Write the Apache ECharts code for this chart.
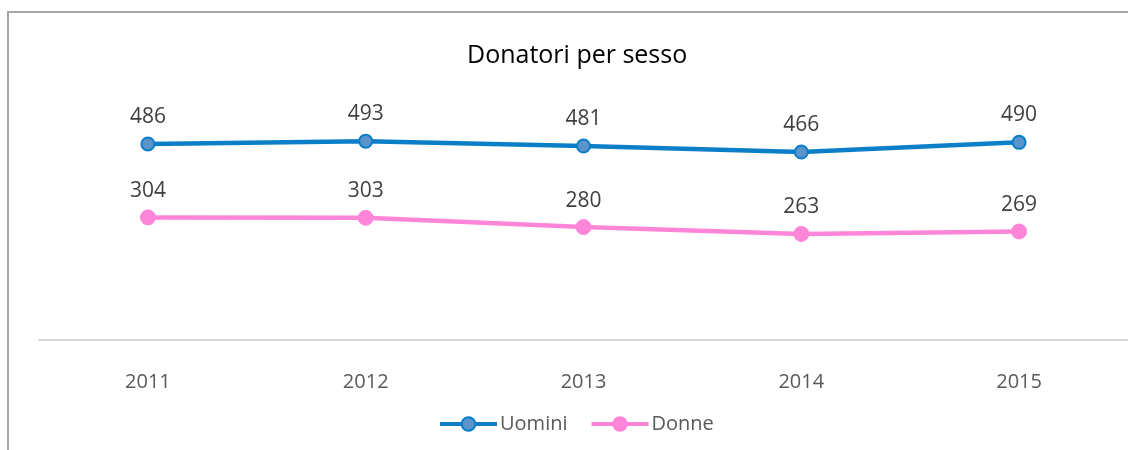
<!DOCTYPE html>
<html>
<head>
<meta charset="utf-8">
<script src="https://cdn.jsdelivr.net/npm/echarts@6/dist/echarts.min.js"></script>
<style>
  html, body { margin: 0; padding: 0; background: #fff; }
  #frame {
    position: absolute; left: 7px; top: 11px;
    width: 1140px; height: 460px;
    border: 2px solid #a6a6a6; box-sizing: border-box;
  }
  #chart { position: absolute; left: 0; top: 0; width: 1128px; height: 450px; }
</style>
</head>
<body>
<div id="frame"></div>
<div id="chart"></div>
<script>
const years = ["2011", "2012", "2013", "2014", "2015"];
const uomini = [486, 493, 481, 466, 490];
const donne = [304, 303, 280, 263, 269];

const font = "'Open Sans', 'Noto Sans', sans-serif";
const myChart = echarts.init(document.getElementById("chart"));
myChart.setOption({
  animation: false,
  title: {
    text: "Donatori per sesso",
    left: 462,
    top: 38,
    textStyle: { fontFamily: font, fontSize: 25, fontWeight: "normal", color: "#000" },
  },
  grid: { left: 39, right: -4, top: 98, bottom: 110 },
  legend: {
    bottom: 11,
    left: 433,
    itemWidth: 57,
    itemHeight: 17,
    itemGap: 22,
    lineStyle: { width: 4 },
    textStyle: { fontFamily: font, fontSize: 20, color: "#595959", padding: [0, 0, 0, -2] },
    data: ["Uomini", "Donne"],
  },
  xAxis: {
    type: "category",
    data: years,
    boundaryGap: true,
    axisLine: { lineStyle: { color: "#d9d9d9", width: 2 } },
    axisTick: { show: false },
    axisLabel: { fontFamily: font, fontSize: 20, color: "#595959", margin: 32 },
  },
  yAxis: {
    type: "value",
    min: 0,
    max: 600,
    show: false,
    splitLine: { show: false },
  },
  series: [
    {
      name: "Uomini",
      type: "line",
      data: uomini,
      symbol: "circle",
      symbolSize: 13,
      lineStyle: { color: "#0a7fc8", width: 4.5 },
      itemStyle: { color: "#5b93cb", borderColor: "#0a7fc8", borderWidth: 2 },
      label: { show: true, position: "top", distance: 9, fontFamily: font, fontSize: 21, color: "#404040" },
    },
    {
      name: "Donne",
      type: "line",
      data: donne,
      symbol: "circle",
      symbolSize: 15,
      lineStyle: { color: "#ff85d8", width: 4.5 },
      itemStyle: { color: "#ff85d8", borderColor: "#ff85d8", borderWidth: 1 },
      label: { show: true, position: "top", distance: 8, fontFamily: font, fontSize: 21, color: "#404040" },
    },
  ],
});
</script>
</body>
</html>
